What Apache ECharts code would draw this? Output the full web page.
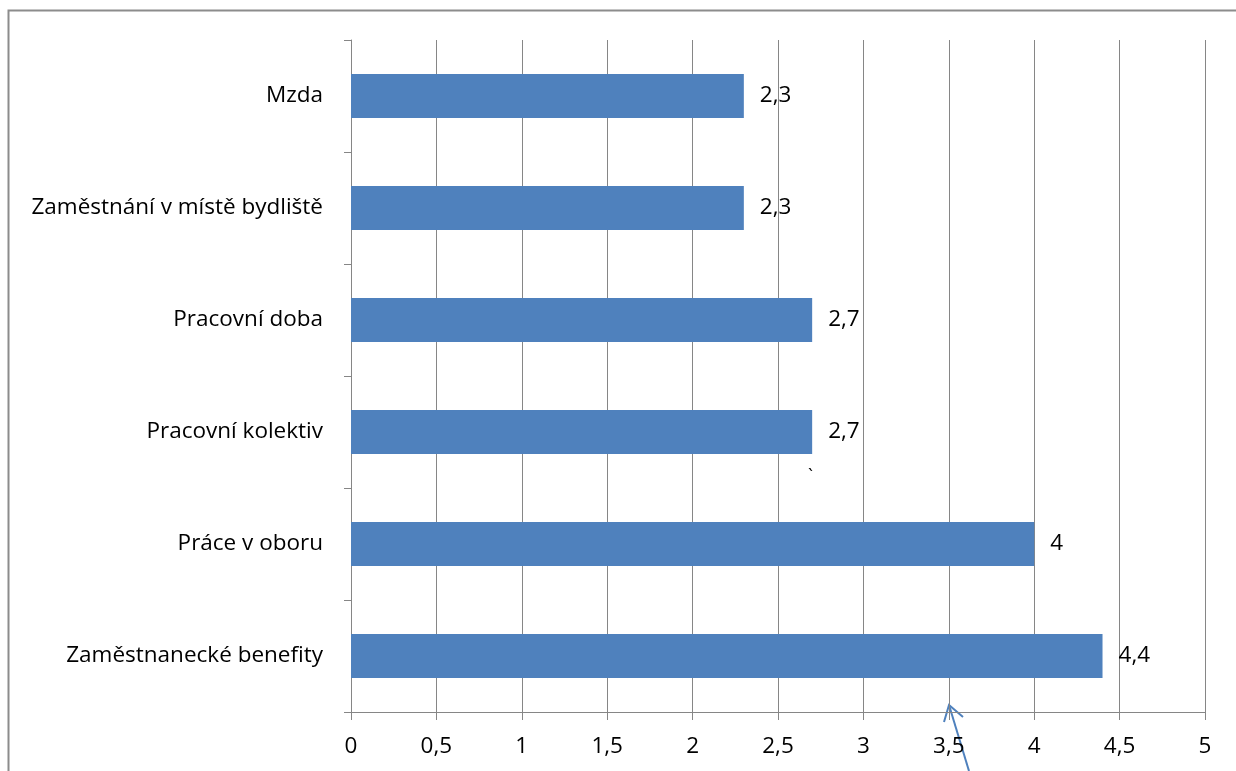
<!DOCTYPE html>
<html><head><meta charset="utf-8">
<script src="https://cdn.jsdelivr.net/npm/echarts@6/dist/echarts.min.js"></script>
<style>html,body{margin:0;padding:0;background:#fff}#c{width:1236px;height:771px}</style>
</head><body><div id="c"></div>
<script>
const categories = ['Zaměstnanecké benefity','Práce v oboru','Pracovní kolektiv','Pracovní doba','Zaměstnání v místě bydliště','Mzda'];
const values = [4.4, 4, 2.7, 2.7, 2.3, 2.3];
const FONT = 'Open Sans';
const FS = 22.5;
const chart = echarts.init(document.getElementById('c'));
chart.setOption({
  animation: false,
  backgroundColor: '#fff',
  grid: {left: 351, right: 31, top: 40, bottom: 59},
  xAxis: {
    type: 'value', min: 0, max: 5, interval: 0.5,
    axisLine: {show: true, lineStyle: {color: '#868686', width: 1}},
    axisTick: {show: true, length: 8, inside: false, lineStyle: {color: '#868686'}},
    splitLine: {show: true, lineStyle: {color: '#868686', width: 1}},
    axisLabel: {color: '#000', fontFamily: FONT, fontSize: FS, margin: 23,
      formatter: v => String(v).replace('.', ',')}
  },
  yAxis: {
    type: 'category', data: categories,
    axisLine: {show: true, lineStyle: {color: '#868686', width: 1}},
    axisTick: {show: true, length: 7, lineStyle: {color: '#868686'}},
    axisLabel: {color: '#000', fontFamily: FONT, fontSize: FS, margin: 28}
  },
  series: [{
    type: 'bar', data: values, barWidth: 44,
    itemStyle: {color: '#4F81BD'},
    label: {show: true, position: 'right', distance: 16, color: '#000', fontFamily: FONT, fontSize: FS,
      formatter: p => String(p.value).replace('.', ',')}
  }],
  graphic: [
    {type: 'rect', shape: {x: 8.5, y: 10.5, width: 1240, height: 800}, style: {fill: 'none', stroke: '#8c8c8c', lineWidth: 2}, silent: true},
    {type: 'polyline', shape: {points: [[969, 771], [949, 705]]}, style: {stroke: '#4F81BD', lineWidth: 2, fill: 'none'}},
    {type: 'polyline', shape: {points: [[944, 722], [949, 705], [963, 717]]}, style: {stroke: '#4F81BD', lineWidth: 2, fill: 'none'}},
    {type: 'text', left: 808, top: 468, style: {text: '`', fontSize: 18, fontFamily: FONT, fill: '#000'}}
  ]
});
</script></body></html>
